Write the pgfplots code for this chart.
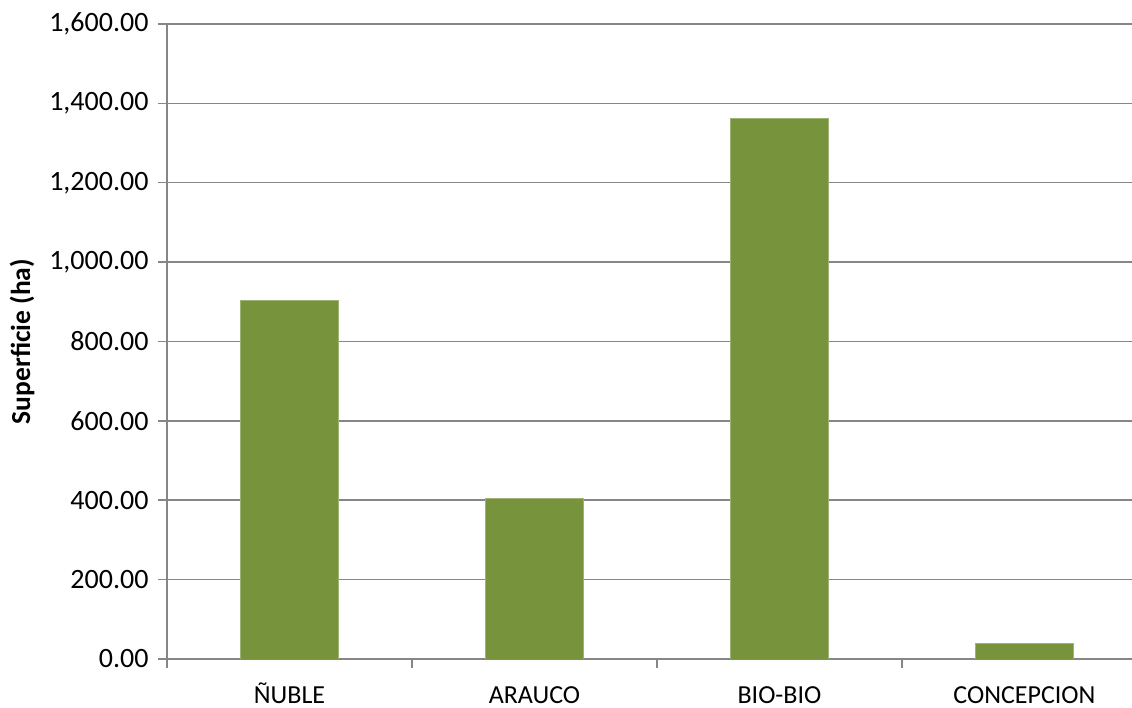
\documentclass[border=0pt]{standalone}
\usepackage{pgfplots}
\pgfplotsset{compat=1.18}
\usepackage{fontspec}
\setmainfont{Carlito}
\definecolor{barc}{RGB}{119,147,60}
\definecolor{axc}{RGB}{134,134,134}
\begin{document}
\begin{tikzpicture}
\begin{axis}[
  scale only axis,
  width=965pt, height=635pt,
  at={(0,0)}, anchor=south west,
  xmin=-0.5, xmax=3.439,
  ymin=0, ymax=1600,
  ytick={0,200,...,1600},
  xtick={0,1,2,3},
  xticklabels={ÑUBLE,ARAUCO,BIO-BIO,CONCEPCION},
  minor xtick={-0.5,0.5,1.5,2.5},
  axis x line*=bottom, axis y line*=left,
  axis line style={draw=axc, line width=1.5pt},
  x axis line style={-}, y axis line style={-},
  tick align=outside,
  major tick length=9pt, minor tick length=9pt,
  xtick style={draw=none},
  minor x tick style={draw=axc, line width=1.5pt},
  ytick style={draw=axc, line width=1.5pt},
  ymajorgrids,
  grid style={draw=axc, line width=1.5pt},
  xticklabel style={font=\fontsize{26}{30}\selectfont, yshift=-11pt, text height=21pt, text depth=6pt},
  yticklabel style={font=\fontsize{28}{32}\selectfont, xshift=-6pt},
  /pgf/number format/assume math mode=true,
  yticklabel={\pgfmathprintnumber[fixed,fixed zerofill,precision=2,1000 sep={,}]{\tick}},
  ybar, bar width=98pt,
]
\addplot[fill=barc, draw=barc!70!white, line width=0.8pt] coordinates {(0,904) (1,405) (2,1362) (3,40)};
\end{axis}
\node[rotate=90, font=\bfseries\fontsize{27.5}{32}\selectfont] at (-145pt,317.5pt) {Superficie (ha)};
\pgfresetboundingbox
\path (-167pt,-49pt) rectangle (965pt,659pt);
\end{tikzpicture}
\end{document}
